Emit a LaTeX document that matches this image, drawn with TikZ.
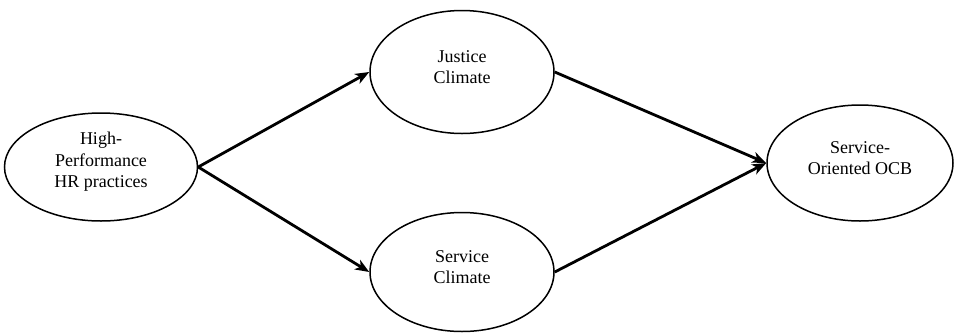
\documentclass[tikz,border=0pt]{standalone}
\usepackage{fontspec}
\setmainfont{Liberation Serif}
\usetikzlibrary{shapes.geometric,arrows.meta}
\begin{document}
\begin{tikzpicture}[x=1pt,y=-1pt,
  oval/.style={ellipse,draw,line width=1.5pt,inner sep=0pt},
  lbl/.style={align=center,inner sep=0pt,yshift=5pt,
    font=\fontsize{18}{21.5}\selectfont},
  link/.style={line width=2.8pt,-{Stealth[length=14pt,width=11pt,inset=4pt]}}]
\useasboundingbox (0,0) rectangle (954,333);
\node[oval,minimum width=193pt,minimum height=108pt] (hr) at (101,167) {};
\node[oval,minimum width=184pt,minimum height=123pt] (jc) at (462,72) {};
\node[oval,minimum width=184pt,minimum height=119pt] (sc) at (462,272) {};
\node[oval,minimum width=186pt,minimum height=116pt] (ocb) at (860,163) {};
\node[lbl] (hrt) at (hr.center) {High-\\Performance\\HR practices};
\node[lbl] (jct) at (jc.center) {Justice\\Climate};
\node[lbl] (sct) at (sc.center) {Service\\Climate};
\node[lbl] (ocbt) at (ocb.center) {Service-\\Oriented OCB};
\draw[link] (hr.east) -- (jc.west);
\draw[link] (hr.east) -- (sc.west);
\draw[link] (jc.east) -- (ocb.west);
\draw[link] (sc.east) -- (ocb.west);
\end{tikzpicture}
\end{document}
